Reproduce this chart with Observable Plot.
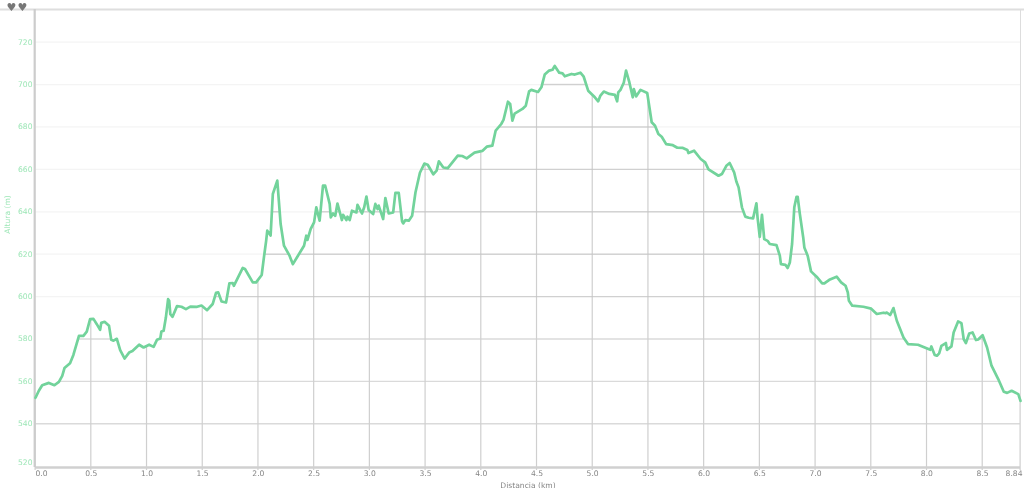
<!DOCTYPE html>
<html>
<head>
<meta charset="utf-8">
<script src="https://cdn.jsdelivr.net/npm/d3@7"></script>
<script src="https://cdn.jsdelivr.net/npm/@observablehq/plot@0.6"></script>
<style>html,body{margin:0;padding:0;background:#fff;overflow:hidden}svg{display:block}</style>
</head>
<body>
<div id="chart"></div>
<script>
const distanceKm = [0,.03,.06,.12,.17,.21,.24,.26,.31,.34,.39,.43,.46,.49,.52,.55,.58,.59,.62,.66,.68,.70,.73,.76,.80,.84,.87,.93,.97,1.02,1.06,1.09,1.12,1.13,1.15,1.17,1.19,1.20,1.21,1.23,1.27,1.31,1.35,1.39,1.45,1.49,1.54,1.59,1.62,1.64,1.67,1.71,1.74,1.77,1.78,1.86,1.88,1.95,1.98,2.03,2.05,2.07,2.08,2.11,2.13,2.17,2.20,2.23,2.28,2.31,2.35,2.41,2.43,2.44,2.47,2.50,2.52,2.55,2.58,2.60,2.64,2.65,2.67,2.69,2.71,2.75,2.76,2.79,2.80,2.82,2.84,2.88,2.89,2.93,2.95,2.97,2.99,3.03,3.05,3.07,3.08,3.12,3.14,3.17,3.21,3.23,3.26,3.29,3.30,3.32,3.35,3.38,3.41,3.45,3.49,3.52,3.57,3.60,3.62,3.66,3.70,3.79,3.83,3.87,3.94,4.01,4.05,4.10,4.13,4.18,4.20,4.24,4.26,4.28,4.30,4.37,4.40,4.43,4.45,4.51,4.54,4.57,4.61,4.64,4.66,4.70,4.73,4.75,4.81,4.84,4.89,4.92,4.96,5.02,5.05,5.07,5.10,5.15,5.20,5.22,5.23,5.25,5.28,5.30,5.33,5.36,5.37,5.39,5.43,5.49,5.51,5.53,5.56,5.59,5.62,5.66,5.72,5.76,5.81,5.85,5.86,5.91,5.97,6.01,6.04,6.13,6.16,6.20,6.23,6.27,6.29,6.31,6.34,6.37,6.40,6.44,6.47,6.48,6.50,6.52,6.54,6.57,6.59,6.65,6.68,6.69,6.73,6.75,6.77,6.79,6.81,6.83,6.84,6.86,6.89,6.90,6.93,6.96,7.01,7.06,7.08,7.13,7.19,7.23,7.27,7.29,7.30,7.33,7.43,7.50,7.55,7.61,7.63,7.64,7.67,7.70,7.73,7.79,7.83,7.92,8.03,8.04,8.07,8.09,8.11,8.13,8.17,8.18,8.22,8.24,8.28,8.31,8.33,8.35,8.38,8.41,8.44,8.46,8.50,8.54,8.58,8.64,8.69,8.72,8.76,8.82,8.84];
const altitudeM = [552.3,555.6,558.2,559.3,558.2,559.8,562.6,566.3,568.6,572.5,581.5,581.5,583.5,589.4,589.5,587.0,584.3,587.6,588.1,586.2,579.6,579.2,580.1,574.8,570.8,573.6,574.3,577.3,576.0,577.3,576.3,579.6,580.2,583.5,583.9,590.1,598.8,598.0,591.7,590.5,595.5,595.2,594.1,595.3,595.2,595.8,593.6,596.5,601.8,602.0,597.7,597.2,606.2,606.4,605.1,613.5,613.0,606.7,606.7,610.2,618.5,626.3,631.1,628.8,648.4,654.7,634.2,624.0,619.3,615.3,618.8,624.0,628.7,626.7,631.9,635.0,642.1,635.8,652.3,652.3,643.7,637.4,639.2,638.1,643.9,636.1,638.6,636.1,637.7,636.1,640.5,639.7,643.3,639.2,642.1,647.2,640.8,638.9,643.7,641.3,642.9,636.6,646.5,639.2,639.7,648.9,648.9,635.5,634.5,636.1,635.8,638.1,649.1,658.4,662.7,662.2,657.7,659.4,663.8,660.9,660.6,666.5,666.3,665.2,667.9,668.7,670.7,671.2,678.3,681.4,683.3,691.9,690.9,683.0,686.3,688.5,690.0,696.8,697.5,696.5,698.7,704.7,706.6,707.0,708.8,705.6,705.3,703.9,705.0,704.7,705.6,703.7,697.1,694.0,692.1,694.8,696.7,695.6,695.1,692.1,696.3,697.5,701.0,706.6,701.0,694.0,697.9,694.4,697.5,696.0,689.2,682.2,680.6,676.7,675.4,671.9,671.4,670.2,670.1,669.1,667.7,668.8,664.9,663.3,660.0,657.0,657.8,661.7,663.0,658.6,654.3,651.5,642.1,637.7,637.2,636.9,644.0,637.4,628.2,638.6,627.1,626.3,624.8,624.3,619.3,615.3,615.0,613.5,616.1,624.8,642.1,647.1,647.1,638.9,627.9,623.2,619.3,611.9,609.4,606.2,606.2,608.1,609.4,606.7,605.1,602.0,598.0,595.7,595.2,594.3,591.8,592.4,592.2,592.5,591.3,594.6,588.6,580.7,577.6,577.3,574.9,576.5,572.5,572.1,573.2,576.8,578.1,574.9,576.5,583.1,588.3,587.5,580.0,578.1,582.6,583.1,579.5,579.8,581.8,576.0,567.4,561.1,555.1,554.6,555.6,554.0,550.8];
const xTicks = [0,0.5,1,1.5,2,2.5,3,3.5,4,4.5,5,5.5,6,6.5,7,7.5,8,8.5,8.84];
const xLabels = ["0.0","0.5","1.0","1.5","2.0","2.5","3.0","3.5","4.0","4.5","5.0","5.5","6.0","6.5","7.0","7.5","8.0","8.5","8.84"];
const yTicks = [540,560,580,600,620,640,660,680,700,720];
const yBottomTick = 520;
const xTitle = "Distancia (km)";
const yTitle = "Altura (m)";
const markers = ["♥","♥"];

const profile = distanceKm.map((d,i)=>({d,a:altitudeM[i]}));
const yTop = 735.4, yBase = 519.4;
const font = "'DejaVu Sans', sans-serif";
const green = "#72d39b", labelGreen = "#9ce6b6", grey = "#858585";

const plot = Plot.plot({
  width:1024, height:488,
  marginLeft:35, marginRight:4, marginTop:9, marginBottom:21,
  style:{fontFamily:font, background:"#fff", overflow:"hidden"},
  x:{domain:[0,8.84], axis:null},
  y:{domain:[yBase,yTop], axis:null},
  marks:[
    Plot.ruleY(yTicks,{stroke:"#dadada",strokeWidth:1.4}),
    Plot.ruleX(xTicks,{stroke:"#cfcfcf",strokeWidth:1.2,insetBottom:-3,dx:-0.4}),
    Plot.areaY(profile,{x:"d",y1:()=>yTop,y2:"a",fill:"#fff"}),
    Plot.ruleY(yTicks.filter(v=>v>=600),{stroke:"#f4f4f4",strokeWidth:1.2,mixBlendMode:"multiply"}),
    Plot.ruleY([yTop],{stroke:"#dedede",strokeWidth:2,insetLeft:-35,insetRight:-4}),
    Plot.ruleY([yBase],{stroke:"#d0d0d0",strokeWidth:2.6}),
    Plot.ruleX([0],{stroke:"#cccccc",strokeWidth:2.2,dx:-0.8}),
    Plot.line(profile,{x:"d",y:"a",stroke:green,strokeWidth:2.7,strokeLinejoin:"round",strokeLinecap:"round"}),
    Plot.text(xTicks,{x:d=>d,text:(d,i)=>xLabels[i],frameAnchor:"bottom",dy:8.5,fontSize:7.6,fill:grey,
      textAnchor:"middle",filter:d=>d>0&&d<8.84}),
    Plot.text([0],{x:d=>d,text:()=>xLabels[0],frameAnchor:"bottom",dy:8.5,fontSize:7.6,fill:grey,textAnchor:"start"}),
    Plot.text([8.84],{x:d=>d,text:()=>xLabels[18],frameAnchor:"bottom",dy:8.5,fontSize:7.6,fill:grey,textAnchor:"end",dx:2}),
    Plot.text(yTicks,{y:d=>d,text:d=>String(d),frameAnchor:"left",dx:-3,fontSize:7.6,fill:labelGreen,textAnchor:"end"}),
    Plot.text([yBottomTick],{y:d=>d,text:d=>String(d),frameAnchor:"left",dx:-3,dy:-3.5,fontSize:7.6,fill:labelGreen,textAnchor:"end"}),
    Plot.text([xTitle],{x:()=>4.42,text:d=>d,frameAnchor:"bottom",dy:20,fontSize:7.6,fill:grey}),
    Plot.text([yTitle],{y:()=>629.6,text:d=>d,frameAnchor:"left",dx:-28,rotate:-90,fontSize:7.6,fill:labelGreen}),
    Plot.text(markers,{text:d=>d,frameAnchor:"top-left",dx:-29,dy:-6,fontSize:11,fill:"#777",filter:(d,i)=>i===0}),
    Plot.text(markers,{text:d=>d,frameAnchor:"top-left",dx:-18,dy:-6,fontSize:11,fill:"#777",filter:(d,i)=>i===1})
  ]
});
document.getElementById("chart").appendChild(plot);
</script>
</body>
</html>
